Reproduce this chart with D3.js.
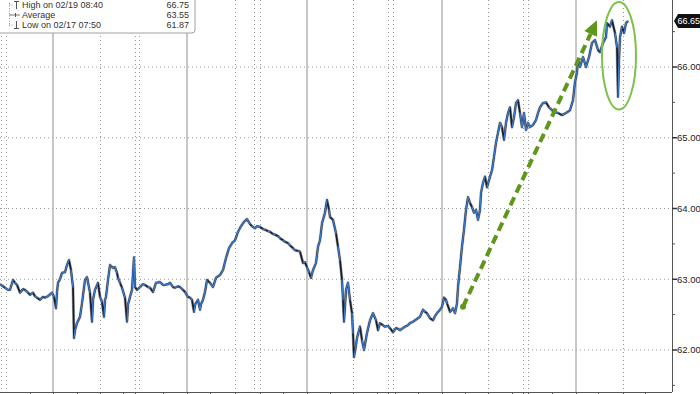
<!DOCTYPE html>
<html>
<head>
  <meta charset="UTF-8">
  <title>Price chart</title>
  <style>
    body {
      margin: 0;
      padding: 0;
      background: #fff;
      font-family: "Liberation Sans", Arial, sans-serif;
    }
    svg {
      display: block;
    }
  </style>
</head>
<body>
  <svg></svg>

  <script src="https://d3js.org/d3.v7.min.js"></script>
  <script>
    // bar position / price pairs
    let bars = [0,3,5,8,10,13,15,17,20,23,25,28,30,33,35,37,40,43,45,48,52,54,56,57,58,60,62,65,67,69,
      71,73,74,75,77,80,82,85,87,90,92,93,95,98,100,102,104,105,106,108,110,113,115,117,118,120,122,125,127,128,
      130,132,134,135,137,140,143,145,148,150,153,156,160,163,165,168,170,173,175,178,180,183,185,188,190,192,194,195,198,200,
      201,203,205,207,210,213,216,220,223,226,229,232,235,238,241,244,247,250,252,255,257,260,263,265,268,270,273,275,278,280,
      283,285,288,290,293,295,298,300,303,305,307,309,311,313,316,318,320,322,325,327,329,330,333,336,338,340,342,343,344,346,
      348,350,352,353,354,356,357,360,362,364,367,370,373,376,378,380,383,385,388,390,393,396,398,400,403,405,408,410,413,415,
      418,420,423,425,427,430,433,435,437,440,442,444,446,447,450,452,453,455,457,458,460,462,464,466,468,470,472,474,476,478,
      480,481,483,485,487,490,492,494,496,498,500,502,504,506,508,510,512,514,516,518,520,522,524,526,528,530,533,536,538,540,
      543,546,549,552,555,558,562,566,570,573,575,577,578,580,583,586,589,592,595,598,600,603,606,607,610,612,615,617,618,619,
      620,622,624,626,628];
    let prices = [62.93,62.90,62.88,62.85,62.85,62.99,62.95,62.92,62.81,62.86,62.85,62.81,62.78,62.81,62.76,62.74,62.71,62.75,62.74,62.76,62.81,62.75,62.59,62.82,62.95,63.00,63.09,63.10,63.20,63.27,
      63.13,62.89,62.17,62.28,62.38,62.47,62.66,62.99,63.03,62.81,62.40,62.71,62.85,62.95,62.75,62.68,62.47,62.71,62.75,62.99,63.20,63.16,63.17,63.09,63.02,62.95,62.88,62.74,62.40,62.64,
      62.75,62.85,63.31,62.89,62.85,62.89,62.93,62.92,62.89,62.88,62.82,62.95,62.96,62.92,62.92,62.93,62.95,62.89,62.88,62.90,62.89,62.85,62.82,62.75,62.74,62.71,62.54,62.64,62.71,62.57,
      62.65,62.71,62.82,62.99,62.95,62.89,63.02,63.06,63.13,63.30,63.44,63.51,63.55,63.67,63.75,63.81,63.85,63.78,63.75,63.72,63.75,63.74,63.71,63.70,63.68,63.67,63.64,63.63,63.61,63.58,
      63.55,63.53,63.51,63.48,63.44,63.41,63.40,63.39,63.23,63.24,63.17,63.10,63.02,63.13,63.23,63.46,63.55,63.79,63.94,64.12,63.98,63.88,63.84,63.65,63.46,63.27,62.99,62.71,62.40,62.85,
      62.95,62.71,62.52,62.24,61.90,62.07,62.17,62.33,62.14,62.00,62.24,62.42,62.52,62.42,62.28,62.38,62.35,62.33,62.34,62.31,62.25,62.31,62.30,62.28,62.31,62.33,62.35,62.38,62.40,62.42,
      62.45,62.47,62.57,62.54,62.52,62.45,62.42,62.48,62.52,62.57,62.61,62.74,62.71,62.66,62.54,62.57,62.59,62.52,62.66,62.89,63.17,63.46,63.70,63.98,64.16,64.08,64.02,63.94,63.98,63.84,
      63.98,64.22,64.36,64.45,64.30,64.45,64.54,64.73,64.93,65.07,65.21,65.15,64.97,65.21,65.35,65.43,65.15,65.29,65.49,65.53,65.35,65.15,65.35,65.11,65.21,65.15,65.18,65.25,65.35,65.43,
      65.49,65.50,65.43,65.39,65.36,65.35,65.32,65.35,65.39,65.53,65.79,65.92,66.10,66.00,66.14,66.00,66.14,66.34,66.38,66.24,66.21,66.34,66.42,66.62,66.57,66.66,66.48,66.28,65.58,66.10,
      66.42,66.57,66.48,66.62,66.65];

    let priceTicks = [62, 63, 64, 65, 66, 67];
    let minorTicks = [61.5, 62.5, 63.5, 64.5, 65.5, 66.5];
    let lastPrice = 66.65;

    let weekLines = [53, 187, 307, 442, 576];
    let dayLines = [1, 6, 100, 135, 139, 235, 254, 260, 353, 388, 393, 488, 523, 528, 623];
    let timeTicks = [30, 53, 77, 100, 123, 135, 163, 187, 210, 235, 260, 283, 307, 330, 353, 377, 388, 395,
      418, 442, 465, 488, 512, 523, 528, 552, 576, 598, 623, 645];

    let legendLabels = ["High on 02/19 08:40", "Average", "Low on 02/17 07:50"];
    let legendValues = ["66.75", "63.55", "61.87"];

    // annotations: trend arrow and highlight ellipse
    let arrowFrom = [463, 62.61], arrowTo = [597, 66.66];
    let ringCenter = [619, 66.16], ringBars = 17, ringPrice = 0.76;

    let width = 700, height = 394;
    let plotRight = 672, plotBottom = 392;

    let svg = d3.select("svg")
        .attr("width", width)
        .attr("height", height);

    let x = d3.scaleLinear().domain([0, 672]).range([0, plotRight]);
    let y = d3.scaleLinear().domain([62, 66]).range([350, 67]);

    // grid
    let grid = svg.append("g");
    grid.selectAll(".hgrid")
      .data(priceTicks)
      .enter().append("line")
      .attr("x1", 0).attr("x2", plotRight)
      .attr("y1", d => y(d)).attr("y2", d => y(d))
      .attr("stroke", "#9a9a9a")
      .attr("stroke-width", 1)
      .attr("stroke-dasharray", "1,3");

    grid.selectAll(".dgrid")
      .data(dayLines)
      .enter().append("line")
      .attr("x1", d => x(d) + 0.5).attr("x2", d => x(d) + 0.5)
      .attr("y1", 0).attr("y2", plotBottom)
      .attr("stroke", "#9a9a9a")
      .attr("stroke-width", 1)
      .attr("stroke-dasharray", "1,3");

    grid.selectAll(".wgrid")
      .data(weekLines)
      .enter().append("line")
      .attr("x1", d => x(d)).attr("x2", d => x(d))
      .attr("y1", 0).attr("y2", plotBottom)
      .attr("stroke", "#b4b4b4")
      .attr("stroke-width", 1.5);

    // price line: dark base, blue on the up moves like the terminal bars
    let series = bars.map((b, i) => [b, prices[i]]);
    let line = d3.line().x(d => x(d[0])).y(d => y(d[1]));
    svg.append("path")
      .datum(series)
      .attr("d", line)
      .attr("fill", "none")
      .attr("stroke", "#7a7a7a")
      .attr("stroke-width", 3)
      .attr("stroke-linejoin", "round")
      .attr("opacity", 0.6);
    svg.append("path")
      .datum(series)
      .attr("d", line)
      .attr("fill", "none")
      .attr("stroke", "#1a1e2c")
      .attr("stroke-width", 1.8)
      .attr("stroke-linejoin", "round");
    let seg = svg.append("g");
    for (let i = 1; i < series.length; i++) {
      if (prices[i] < prices[i - 1] && i % 2 == 0) continue;
      seg.append("line")
        .attr("x1", x(bars[i - 1])).attr("y1", y(prices[i - 1]))
        .attr("x2", x(bars[i])).attr("y2", y(prices[i]))
        .attr("stroke", "#3a7bd0")
        .attr("stroke-width", 1.3)
        .attr("stroke-linecap", "round");
    }

    // axes
    svg.append("line")
      .attr("x1", plotRight + 0.5).attr("x2", plotRight + 0.5)
      .attr("y1", 0).attr("y2", plotBottom)
      .attr("stroke", "#555").attr("stroke-width", 1);
    svg.append("line")
      .attr("x1", 0).attr("x2", plotRight)
      .attr("y1", plotBottom + 0.5).attr("y2", plotBottom + 0.5)
      .attr("stroke", "#555").attr("stroke-width", 1);

    svg.selectAll(".ttick")
      .data(timeTicks)
      .enter().append("line")
      .attr("x1", d => x(d) + 0.5).attr("x2", d => x(d) + 0.5)
      .attr("y1", plotBottom).attr("y2", height)
      .attr("stroke", "#555");

    svg.selectAll(".mtick")
      .data(minorTicks)
      .enter().append("line")
      .attr("x1", plotRight).attr("x2", plotRight + 3)
      .attr("y1", d => y(d)).attr("y2", d => y(d))
      .attr("stroke", "#555");

    svg.selectAll(".ptick")
      .data(priceTicks)
      .enter().append("line")
      .attr("x1", plotRight).attr("x2", plotRight + 5)
      .attr("y1", d => y(d)).attr("y2", d => y(d))
      .attr("stroke", "#333").attr("stroke-width", 1.5);

    svg.selectAll(".plabel")
      .data(priceTicks)
      .enter().append("text")
      .attr("x", plotRight + 5)
      .attr("y", d => y(d))
      .attr("dy", "0.35em")
      .attr("font-size", "9.5px")
      .attr("fill", "#222")
      .text(d => d.toFixed(2));

    // last price tag
    let ly = y(lastPrice);
    svg.append("path")
      .attr("d", `M${plotRight + 2},${ly} L${plotRight + 6},${ly - 7} L${width},${ly - 7} L${width},${ly + 7} L${plotRight + 6},${ly + 7} Z`)
      .attr("fill", "#111");
    svg.append("text")
      .attr("x", plotRight + 5.5)
      .attr("y", ly)
      .attr("dy", "0.35em")
      .attr("font-size", "9px")
      .attr("fill", "#fff")
      .text(lastPrice.toFixed(2));

    // trend arrow
    let ax0 = x(arrowFrom[0]), ay0 = y(arrowFrom[1]);
    let ax1 = x(arrowTo[0]), ay1 = y(arrowTo[1]);
    let ang = Math.atan2(ay1 - ay0, ax1 - ax0);
    let headLen = 15, headW = 7;
    let bx = ax1 - headLen * Math.cos(ang), by = ay1 - headLen * Math.sin(ang);
    svg.append("line")
      .attr("x1", ax0).attr("y1", ay0)
      .attr("x2", bx).attr("y2", by)
      .attr("stroke", "#5f961c")
      .attr("stroke-width", 4)
      .attr("stroke-dasharray", "9,5");
    svg.append("circle")
      .attr("cx", ax0).attr("cy", ay0).attr("r", 3)
      .attr("fill", "#5f961c");
    svg.append("path")
      .attr("d", `M${ax1},${ay1} L${bx + headW * Math.sin(ang)},${by - headW * Math.cos(ang)} L${bx - headW * Math.sin(ang)},${by + headW * Math.cos(ang)} Z`)
      .attr("fill", "#5f961c");

    // highlight ring
    svg.append("ellipse")
      .attr("cx", x(ringCenter[0]))
      .attr("cy", y(ringCenter[1]))
      .attr("rx", x(ringBars) - x(0))
      .attr("ry", y(ringCenter[1] - ringPrice) - y(ringCenter[1]))
      .attr("fill", "none")
      .attr("stroke", "#7cc34d")
      .attr("stroke-width", 2);

    // legend box
    let lg = svg.append("g");
    lg.append("path")
      .attr("d", "M-1,-1 L195,-1 L195,30 Q195,33 192,33 L-1,33 Z")
      .attr("fill", "#fff")
      .attr("stroke", "#a0a0a0");
    lg.append("line")
      .attr("x1", 9.5).attr("x2", 9.5).attr("y1", 3).attr("y2", 27)
      .attr("stroke", "#999").attr("stroke-dasharray", "1,1.5");
    let symY = [5, 15, 25];
    lg.append("line").attr("x1", 9).attr("x2", 14).attr("y1", symY[0]).attr("y2", symY[0]).attr("stroke", "#999").attr("stroke-dasharray", "1,1.5");
    lg.append("line").attr("x1", 14).attr("x2", 19).attr("y1", 1.5).attr("y2", 1.5).attr("stroke", "#555");
    lg.append("line").attr("x1", 16.5).attr("x2", 16.5).attr("y1", 1.5).attr("y2", 9).attr("stroke", "#555");
    lg.append("line").attr("x1", 9).attr("x2", 20).attr("y1", symY[1]).attr("y2", symY[1]).attr("stroke", "#777");
    lg.append("line").attr("x1", 15.5).attr("x2", 15.5).attr("y1", symY[1] - 2).attr("y2", symY[1] + 2).attr("stroke", "#555");
    lg.append("line").attr("x1", 9).attr("x2", 14).attr("y1", symY[2]).attr("y2", symY[2]).attr("stroke", "#999").attr("stroke-dasharray", "1,1.5");
    lg.append("line").attr("x1", 16.5).attr("x2", 16.5).attr("y1", 21).attr("y2", 28.5).attr("stroke", "#555");
    lg.append("line").attr("x1", 14).attr("x2", 19).attr("y1", 28.5).attr("y2", 28.5).attr("stroke", "#555");

    lg.selectAll(".llab")
      .data(legendLabels)
      .enter().append("text")
      .attr("x", 22)
      .attr("y", (d, i) => symY[i])
      .attr("dy", "0.35em")
      .attr("font-size", "9px")
      .attr("fill", "#333")
      .text(d => d);
    lg.selectAll(".lval")
      .data(legendValues)
      .enter().append("text")
      .attr("x", 189)
      .attr("y", (d, i) => symY[i])
      .attr("dy", "0.35em")
      .attr("text-anchor", "end")
      .attr("font-size", "9px")
      .attr("fill", "#333")
      .text(d => d);
  </script>
</body>
</html>
